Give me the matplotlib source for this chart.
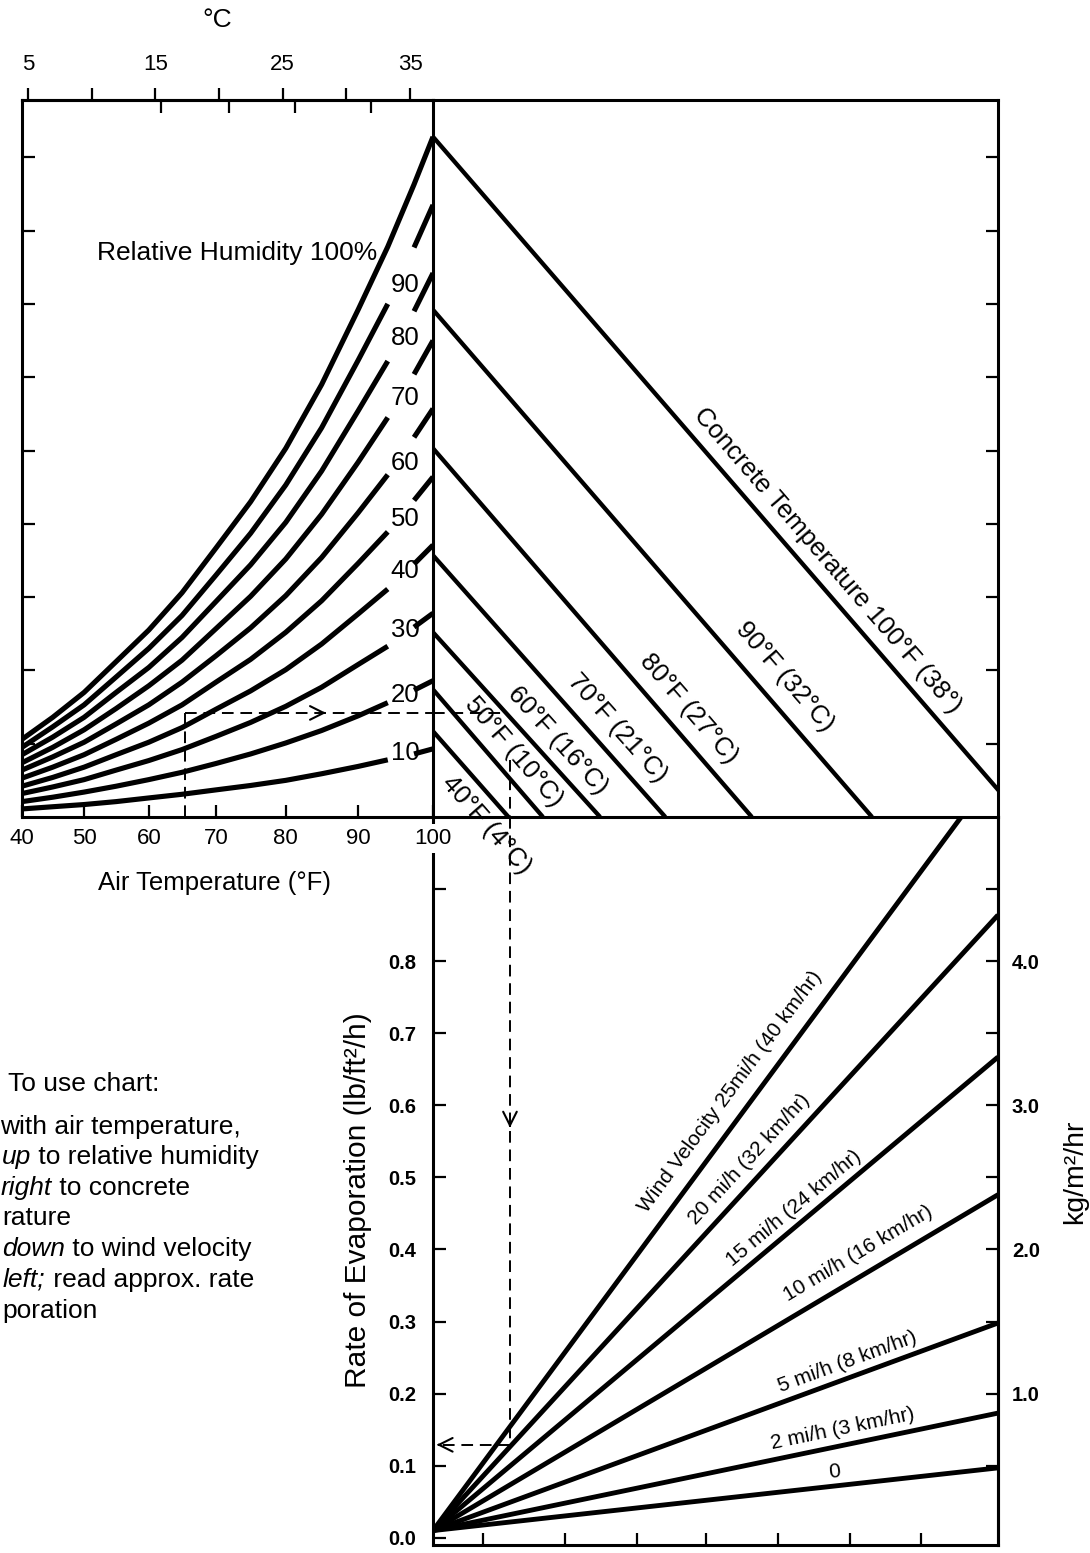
import numpy as np
import matplotlib
matplotlib.use("Agg")
import matplotlib.pyplot as plt

plt.rcParams["font.family"] = ["Liberation Sans", "DejaVu Sans"]
plt.rcParams["axes.linewidth"] = 2.2

W, H = 1090, 1553

# ---- relative humidity curves (height in chart units, one unit per left tick) ----
air_temp_f = [40, 45, 50, 55, 60, 65, 70, 75, 80, 85, 90, 94, 97.5, 100]
rh_levels = [100, 90, 80, 70, 60, 50, 40, 30, 20, 10]
rh_curves = [
    [1.06, 1.36, 1.70, 2.12, 2.55, 3.06, 3.67, 4.30, 5.03, 5.90, 6.92, 7.78, 8.63, 9.28],
    [0.95, 1.23, 1.53, 1.91, 2.30, 2.75, 3.30, 3.87, 4.53, 5.31, 6.23, 7.00, 7.77, 8.35],
    [0.85, 1.09, 1.36, 1.70, 2.04, 2.45, 2.94, 3.44, 4.02, 4.72, 5.54, 6.22, 6.90, 7.42],
    [0.74, 0.95, 1.19, 1.48, 1.79, 2.14, 2.57, 3.01, 3.52, 4.13, 4.84, 5.45, 6.04, 6.50],
    [0.64, 0.82, 1.02, 1.27, 1.53, 1.84, 2.20, 2.58, 3.02, 3.54, 4.15, 4.67, 5.18, 5.57],
    [0.53, 0.68, 0.85, 1.06, 1.28, 1.53, 1.84, 2.15, 2.52, 2.95, 3.46, 3.89, 4.32, 4.64],
    [0.42, 0.54, 0.68, 0.85, 1.02, 1.22, 1.47, 1.72, 2.01, 2.36, 2.77, 3.11, 3.45, 3.71],
    [0.32, 0.41, 0.51, 0.64, 0.77, 0.92, 1.10, 1.29, 1.51, 1.77, 2.08, 2.33, 2.59, 2.78],
    [0.21, 0.27, 0.34, 0.42, 0.51, 0.61, 0.73, 0.86, 1.01, 1.18, 1.38, 1.56, 1.73, 1.86],
    [0.11, 0.14, 0.17, 0.21, 0.26, 0.31, 0.37, 0.43, 0.50, 0.59, 0.69, 0.78, 0.86, 0.93],
]
rh_label_y = [7.26, 6.53, 5.72, 4.83, 4.07, 3.36, 2.55, 1.66, 0.87]  # 90 .. 10
rh_label_x = 96.3

air_ticks = [40, 50, 60, 70, 80, 90, 100]
celsius_major = [5, 15, 25, 35]
celsius_minor = [10, 20, 30]
top_f_ticks_c = [15.45, 20.8, 25.97, 31.9]  # 60..90 F marks on the top scale

# ---- concrete temperature lines ----
concrete_labels = ["40°F (4°C)", "50°F (10°C)", "60°F (16°C)", "70°F (21°C)",
                   "80°F (27°C)", "90°F (32°C)", "Concrete Temperature 100°F (38°)"]
concrete_start = [1.17, 1.74, 2.52, 3.57, 5.03, 6.92, 9.28]
concrete_xint = [1.03, 1.50, 2.28, 3.17, 4.35, 5.99, 8.03]
concrete_label_x = [0.95, 0.89, 1.50, 2.28, 3.25, 4.53, 5.16]
concrete_label_off = [-22, 20, 20, 23, 23, 26, 21]

# ---- wind velocity lines (rate of evaporation, lb/ft2/h) ----
wind_labels = ["0", "2 mi/h (3 km/hr)", "5 mi/h (8 km/hr)", "10 mi/h (16 km/hr)",
               "15 mi/h (24 km/hr)", "20 mi/h (32 km/hr)", "Wind Velocity 25mi/h (40 km/hr)"]
wind_rate_start = 0.01
wind_rate_end = [0.097, 0.173, 0.298, 0.476, 0.667, 0.864, 1.069]
wind_label_x = [5.49, 5.64, 5.73, 5.94, 5.06, 4.50, 4.30]
wind_label_off = [14, 16, 15, 21, 15, 18, 22]

rate_ticks = [0.0, 0.1, 0.2, 0.3, 0.4, 0.5, 0.6, 0.7, 0.8]
kg_ticks = [1, 2, 3, 4]
kg_minor = [0.5, 1.5, 2.5, 3.5, 4.5]
bottom_ticks = [0.68, 1.80, 2.78, 3.72, 4.71, 5.69, 6.66]

# ---- worked example ----
example_air_f = 65.5
example_vp = 1.42
example_x = 1.05
example_rate = 0.129

XMAX = 7.708
YMAX = 9.782

# slightly stretched Fahrenheit scale, as printed
SA, SB = 6.083, 0.01278


def f_fwd(v):
    t = np.asarray(v, float) - 40.0
    return SA * t + SB * t * t


def f_inv(p):
    p = np.maximum(np.asarray(p, float), -700.0)
    return 40.0 + (-SA + np.sqrt(SA ** 2 + 4 * SB * p)) / (2 * SB)


def rect(x0, y0, x1, y1):
    return [x0 / W, 1 - y1 / H, (x1 - x0) / W, (y1 - y0) / H]


fig = plt.figure(figsize=(W / 100, H / 100), dpi=100)
ax_ev = fig.add_axes(rect(433, 817, 998, 1545))
ax_ct = fig.add_axes(rect(433, 100, 998, 817))
ax_rh = fig.add_axes(rect(22, 100, 433, 817))
ax_rh.set_zorder(5)
for a in (ax_ev, ax_ct, ax_rh):
    a.patch.set_visible(False)

tick_kw = dict(width=1.6, color="black")

# ---------- relative humidity panel ----------
ax_rh.set_xscale("function", functions=(f_fwd, f_inv))
ax_rh.set_xlim(40, 100)
ax_rh.set_ylim(0, YMAX)
ax_rh.spines["right"].set_visible(False)
for rh, vals in zip(rh_levels, rh_curves):
    if rh == 100:
        ax_rh.plot(air_temp_f, vals, color="black", lw=3.7, solid_capstyle="butt")
    else:
        ax_rh.plot(air_temp_f[:12], vals[:12], color="black", lw=3.7, solid_capstyle="butt")
        ax_rh.plot(air_temp_f[12:], vals[12:], color="black", lw=3.7, solid_capstyle="butt")
for rh, yl in zip(rh_levels[1:], rh_label_y):
    ax_rh.text(rh_label_x, yl, str(rh), fontsize=18.5, ha="center", va="center")
ax_rh.text(92.6, 7.69, "Relative Humidity 100%", fontsize=19, ha="right", va="center")

ax_rh.set_xticks(air_ticks, [str(v) for v in air_ticks], fontsize=16)
ax_rh.set_yticks(range(1, 10))
ax_rh.tick_params(axis="x", direction="in", length=9, pad=8, top=False, **tick_kw)
ax_rh.tick_params(axis="y", direction="in", length=9, labelleft=False, **tick_kw)
ax_rh.xaxis.get_major_ticks()[-1].label1.set_bbox(dict(facecolor="white", edgecolor="none", pad=3))

# top Celsius scale
ax_c = ax_rh.twiny()
ax_c.set_xlim(4.53, 36.8)
ax_c.set_xticks(celsius_major, [str(v) for v in celsius_major], fontsize=16)
ax_c.set_xticks(celsius_minor, minor=True)
ax_c.tick_params(axis="x", which="both", direction="out", length=9, pad=9, **tick_kw)
for s in ("left", "right", "bottom"):
    ax_c.spines[s].set_visible(False)

ax_f = ax_rh.twiny()
ax_f.set_xlim(4.53, 36.8)
ax_f.set_xticks(top_f_ticks_c, [""] * len(top_f_ticks_c))
ax_f.tick_params(axis="x", direction="in", length=9, **tick_kw)
for s in ("left", "right", "bottom", "top"):
    ax_f.spines[s].set_visible(False)


def label_on_line(ax, xs, ys, x_at, text, off_px, size):
    y_at = np.interp(x_at, xs, ys)
    p0 = ax.transData.transform((xs[0], ys[0]))
    p1 = ax.transData.transform((xs[1], ys[1]))
    ang = np.degrees(np.arctan2(p1[1] - p0[1], p1[0] - p0[0]))
    a = np.radians(ang)
    off = off_px * 0.72
    ax.annotate(text, (x_at, y_at), xytext=(-np.sin(a) * off, np.cos(a) * off),
                textcoords="offset points", rotation=ang, rotation_mode="anchor",
                ha="center", va="center", fontsize=size, annotation_clip=False)


# ---------- concrete temperature panel ----------
ax_ct.set_xlim(0, XMAX)
ax_ct.set_ylim(0, YMAX)
ax_ct.set_xticks([])
ax_ct.set_yticks(range(1, 10))
ax_ct.tick_params(axis="y", left=False, right=True, labelleft=False, direction="in",
                  length=9, **tick_kw)
for y0, xi, lab, lx, off in zip(concrete_start, concrete_xint, concrete_labels,
                                concrete_label_x, concrete_label_off):
    ax_ct.plot([0, xi], [y0, 0], color="black", lw=3.1, solid_capstyle="butt")
    label_on_line(ax_ct, [0, xi], [y0, 0], lx, lab, off, 18.5)

# ---------- evaporation panel ----------
ax_ev.set_xlim(0, XMAX)
ax_ev.set_ylim(-0.01, 1.0)
ax_ev.spines["top"].set_visible(False)
for r1, lab, lx, off in zip(wind_rate_end, wind_labels, wind_label_x, wind_label_off):
    ax_ev.plot([0, XMAX], [wind_rate_start, r1], color="black", lw=3.5, solid_capstyle="butt")
    label_on_line(ax_ev, [0, XMAX], [wind_rate_start, r1], lx, lab, off, 15)

ax_ev.set_yticks(rate_ticks, [f"{v:.1f}" for v in rate_ticks], fontsize=14.5, fontweight="bold")
ax_ev.set_yticks([0.9], minor=True)
ax_ev.set_xticks(bottom_ticks, [""] * len(bottom_ticks))
ax_ev.tick_params(axis="y", which="both", direction="in", length=9, pad=12, right=False, **tick_kw)
ax_ev.tick_params(axis="x", direction="in", length=9, **tick_kw)

sec = ax_ev.secondary_yaxis("right", functions=(lambda r: r * 5, lambda k: k / 5))
sec.set_yticks(kg_ticks, [f"{v:.1f}" for v in kg_ticks], fontsize=14.5, fontweight="bold")
sec.set_yticks(kg_minor, minor=True)
sec.tick_params(which="both", direction="in", length=9, pad=10, **tick_kw)
sec.spines["right"].set_linewidth(2.2)

# ---------- worked example (dashed) ----------
dash = dict(color="black", lw=1.4, ls=(0, (6, 3.5)))
arrow = dict(arrowstyle="->,head_length=0.7,head_width=0.35", lw=1.5, color="black",
             shrinkA=0, shrinkB=0, mutation_scale=14)
ax_rh.plot([example_air_f, example_air_f], [0, example_vp], **dash)
ax_rh.plot([example_air_f, 100], [example_vp, example_vp], **dash)
ax_rh.annotate("", xy=(85.6, example_vp), xytext=(-2, 0), textcoords="offset points",
               arrowprops=arrow)
ax_ct.plot([0, 0.95], [example_vp, example_vp], **dash)
ax_ct.plot([example_x, example_x], [0.78, 0], **dash)
ax_ev.plot([example_x, example_x], [1.0, example_rate], **dash)
ax_ev.plot([example_x, 0.05], [example_rate, example_rate], **dash)
ax_ev.annotate("", xy=(example_x, 0.569), xytext=(0, 2), textcoords="offset points",
               arrowprops=arrow)
ax_ev.annotate("", xy=(0.05, example_rate), xytext=(2, 0), textcoords="offset points",
               arrowprops=arrow)

# ---------- axis titles ----------
fig.text(217 / W, 1 - 20 / H, "°C", fontsize=19, ha="center", va="center")
fig.text(215 / W, 1 - 883 / H, "Air Temperature (°F)", fontsize=18.5, ha="center", va="center")
fig.text(358 / W, 1 - 1200 / H, "Rate of Evaporation (lb/ft²/h)", fontsize=21.5,
         rotation=90, ha="center", va="center")
fig.text(1075 / W, 1 - 1172 / H, "kg/m²/hr", fontsize=20.5, rotation=90, ha="center", va="center")

# ---------- instructions (cut at the left edge as in the scan) ----------
note_italic = ["", "", "up", "right", "", "down", "left;", ""]
note_rest = ["To use chart:", "with air temperature,", " to relative humidity", " to concrete",
             "rature", " to wind velocity", " read approx. rate", "poration"]
note_x = [8, 0, 2, 1, 2, 2, 3, 2]
note_y = [1084, 1127, 1157, 1188, 1218, 1249, 1280, 1311]

renderer = fig.canvas.get_renderer()
for it, rest, x0, y0 in zip(note_italic, note_rest, note_x, note_y):
    x = x0
    if it:
        t = fig.text(x / W, 1 - y0 / H, it, fontsize=19, style="italic", va="center")
        x += t.get_window_extent(renderer=renderer).width
    fig.text(x / W, 1 - y0 / H, rest, fontsize=19, va="center")

fig.savefig("out.png", dpi=100, facecolor="white")
